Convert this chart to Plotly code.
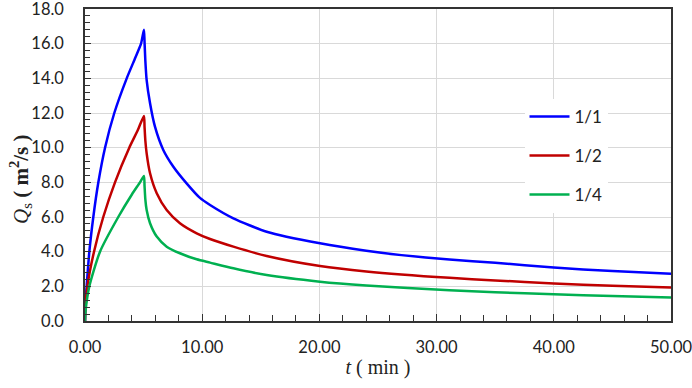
import plotly.graph_objects as go

# ---- data ----
t_blue = [0, 0.03, 0.14, 0.37, 0.71, 1.14, 1.71, 2.5, 3.56, 4.3, 4.78, 5.03,
          5.08, 5.15, 5.26, 5.55, 5.97, 6.68, 7.54, 8.67, 9.81, 10.67, 12.66, 15.5,
          20.05, 24.0, 27.0, 31.1, 35.0, 40.0, 45.0, 50.0]
q_blue = [0, 0.9, 2.0, 4.0, 6.0, 8.0, 10.0, 12.0, 14.0, 15.2, 16.0, 16.8,
          16.1, 15.0, 13.9, 12.56, 11.21, 9.87, 8.9, 7.94, 7.1, 6.69, 5.92, 5.15,
          4.48, 4.05, 3.80, 3.55, 3.36, 3.08, 2.88, 2.72]

t_red = [0, 0.04, 0.2, 0.77, 1.56, 2.56, 3.78, 4.5, 5.03,
         5.08, 5.15, 5.26, 5.55, 6.12, 6.97, 8.1, 9.53, 10.67, 12.66, 15.5,
         20.05, 24.0, 31.1, 35.0, 40.0, 45.0, 50.0]
q_red = [0, 0.8, 2.0, 4.0, 6.0, 8.0, 10.0, 11.0, 11.83,
         11.2, 10.4, 9.67, 8.52, 7.37, 6.4, 5.64, 5.06, 4.73, 4.29, 3.75,
         3.17, 2.86, 2.49, 2.34, 2.17, 2.03, 1.93]

t_green = [0, 0.05, 0.37, 1.28, 2.84, 4.0, 4.69, 5.03,
           5.08, 5.15, 5.26, 5.55, 6.12, 6.97, 8.1, 9.53, 10.67, 12.66, 15.5,
           20.05, 24.0, 31.1, 35.0, 40.0, 45.0, 50.0]
q_green = [0, 0.6, 2.0, 4.0, 6.0, 7.3, 8.0, 8.37,
           7.8, 7.0, 6.4, 5.64, 4.87, 4.29, 3.91, 3.56, 3.37, 3.04, 2.65,
           2.27, 2.05, 1.77, 1.66, 1.54, 1.44, 1.36]

series = [("1/1", t_blue, q_blue, "#0000ff"),
          ("1/2", t_red, q_red, "#c00000"),
          ("1/4", t_green, q_green, "#00b050")]

x_ticks = [0, 10, 20, 30, 40, 50]
x_ticktext = ["0.00", "10.00", "20.00", "30.00", "40.00", "50.00"]
y_ticks = [0, 2, 4, 6, 8, 10, 12, 14, 16, 18]
y_ticktext = ["0.0", "2.0", "4.0", "6.0", "8.0", "10.0", "12.0", "14.0", "16.0", "18.0"]

fig = go.Figure()
for name, t, q, c in series:
    fig.add_trace(go.Scatter(x=t, y=q, mode="lines", name=name, legendgroup=name,
                             line=dict(color=c, width=2.5, shape="spline", smoothing=0.6)))

tickfont = dict(family="Lato, 'Open Sans', sans-serif", size=16.5, color="#222")
fig.update_layout(
    width=692, height=388,
    margin=dict(l=85, r=21, t=9, b=67),
    paper_bgcolor="white", plot_bgcolor="white",
    showlegend=True,
    legend=dict(x=0.75, y=0.712, xanchor="left", yanchor="top",
                bgcolor="rgba(255,255,255,1)", borderwidth=0,
                font=dict(family="Lato, sans-serif", size=17, color="#222"),
                itemwidth=40, tracegroupgap=14),
    xaxis=dict(range=[0, 50], tickvals=x_ticks, ticktext=x_ticktext, automargin=False,
               showgrid=True, gridcolor="#d9d9d9", gridwidth=1,
               showline=True, linecolor="#333", linewidth=1.5, mirror=True,
               ticks="inside", ticklen=7, tickcolor="#333",
               minor=dict(dtick=2, ticks="inside", ticklen=6, tickcolor="#333", showgrid=False),
               tickfont=tickfont, ticklabelstandoff=10, ticklabeloverflow="allow",
               zeroline=False,
               title=dict(text="<i>t</i> ( min )", standoff=4,
                          font=dict(family="Liberation Serif, serif", size=20, color="#222"))),
    yaxis=dict(range=[0, 18], tickvals=y_ticks, ticktext=y_ticktext, automargin=False,
               showgrid=True, gridcolor="#d9d9d9", gridwidth=1,
               showline=True, linecolor="#333", linewidth=1.5, mirror=True,
               ticks="inside", ticklen=6, tickcolor="#333",
               minor=dict(dtick=0.4, ticks="inside", ticklen=5, tickcolor="#333", showgrid=False),
               tickfont=tickfont, ticklabelstandoff=16, ticklabeloverflow="allow",
               zeroline=False),
    annotations=[dict(text="<i>Q</i><sub>s</sub><b> ( m<sup>2</sup>/s )</b>",
                      xref="paper", yref="paper", x=-0.111, y=0.455,
                      xanchor="center", yanchor="middle", textangle=-90, showarrow=False,
                      font=dict(family="Liberation Serif, serif", size=21, color="#222"))],
)

fig.write_html("out.html", config={"displayModeBar": False},
               post_script="document.body.style.margin='0';document.body.style.overflow='hidden';")
